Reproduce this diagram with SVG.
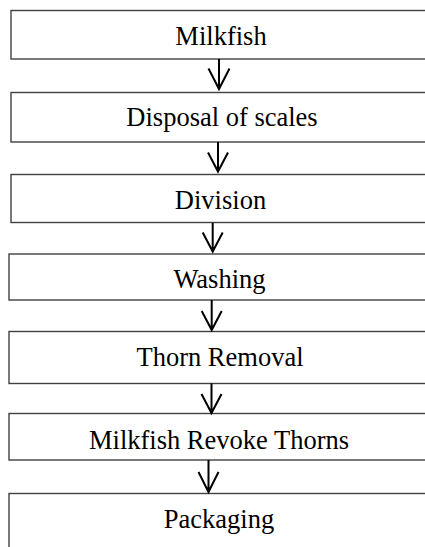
<svg xmlns="http://www.w3.org/2000/svg" width="425" height="547" viewBox="0 0 425 547">
<style>
.box{fill:#fff;stroke:#404040;stroke-width:1.4}
.lbl{font-family:"Liberation Serif","Times New Roman",serif;font-size:26.5px;fill:#000;text-anchor:middle}
.arr{fill:none;stroke:#000;stroke-width:2}
</style>
<rect width="425" height="547" fill="#fff"/>
<g id="n1"><rect class="box" x="11" y="10.5" width="420" height="48.5"/><text class="lbl" x="221" y="45">Milkfish</text></g>
<g id="n2"><rect class="box" x="11" y="92.5" width="420" height="49.5"/><text class="lbl" x="222" y="126">Disposal of scales</text></g>
<g id="n3"><rect class="box" x="11" y="174.5" width="420" height="48"/><text class="lbl" x="220.5" y="209">Division</text></g>
<g id="n4"><rect class="box" x="9" y="254" width="420" height="46"/><text class="lbl" x="219.5" y="288">Washing</text></g>
<g id="n5"><rect class="box" x="9" y="331.5" width="420" height="52"/><text class="lbl" x="220" y="366">Thorn Removal</text></g>
<g id="n6"><rect class="box" x="9" y="413.5" width="420" height="46.5"/><text class="lbl" x="219" y="449">Milkfish Revoke Thorns</text></g>
<g id="n7"><rect class="box" x="9" y="493.5" width="420" height="70"/><text class="lbl" x="219" y="528">Packaging</text></g>
<g id="connectors">
<path class="arr" d="M219 59V89M208.5 68.5L219 89L229.5 68.5"/>
<path class="arr" d="M218 142V171.5M208 152.5L218 171.5L228 152.5"/>
<path class="arr" d="M212.7 222.7V251.5M202.7 232.5L212.7 251.5L222.7 232.5"/>
<path class="arr" d="M211.7 300V330M201.7 311L211.7 330L221.7 311"/>
<path class="arr" d="M211.5 383.5V413M201.5 394L211.5 413L221.5 394"/>
<path class="arr" d="M208.5 460V492M198.5 472L208.5 492L218.5 472"/>
</g>
</svg>
